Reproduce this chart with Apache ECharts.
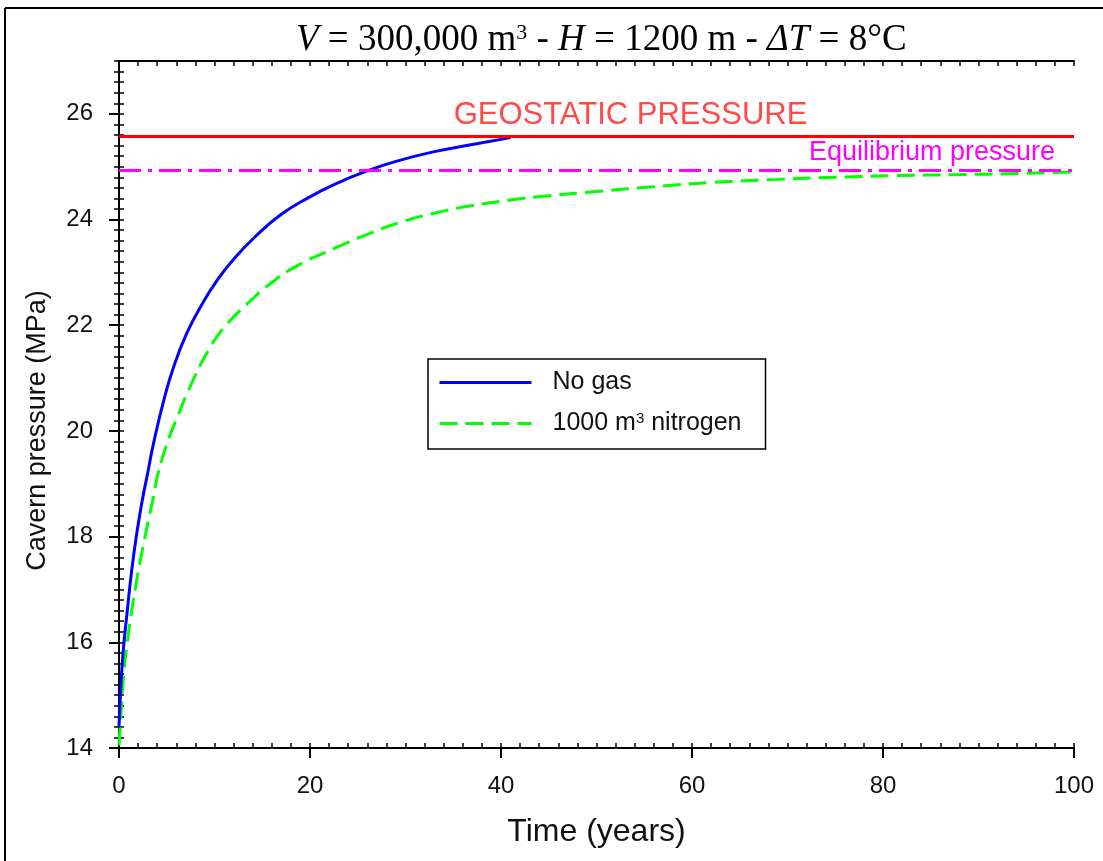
<!DOCTYPE html>
<html>
<head>
<meta charset="utf-8">
<script src="https://cdn.jsdelivr.net/npm/echarts@6/dist/echarts.min.js"></script>
<style>
html, body { margin: 0; padding: 0; background: #fff; }
#chart { width: 1103px; height: 861px; }
</style>
</head>
<body>
<div id="chart"></div>
<script>
// values
var timeNoGas = [0, 0.2, 0.45, 0.87, 1.33, 1.85, 2.4, 3.0, 3.6, 4.65, 5.7, 7.1, 8.8, 10.2, 12, 14.4, 17, 19.7, 23, 26, 29, 32.9, 37, 41];
var pressureNoGas = [14.4, 15.2, 15.85, 16.6, 17.36, 18.05, 18.65, 19.2, 19.75, 20.55, 21.2, 21.85, 22.43, 22.83, 23.25, 23.7, 24.1, 24.4, 24.7, 24.92, 25.1, 25.28, 25.42, 25.55];

var timeNitrogen = [0, 0.28, 0.52, 0.87, 1.33, 1.85, 2.4, 3.07, 3.6, 4.1, 5.2, 6.2, 7.4, 9.5, 11.3, 13.7, 15.8, 18.5, 22.5, 26, 29.5, 33, 36.5, 41, 45, 50, 56, 62, 69, 75, 81, 88, 94, 100];
var pressureNitrogen = [14.05, 14.85, 15.45, 16.0, 16.6, 17.17, 17.7, 18.3, 18.75, 19.2, 19.85, 20.3, 20.82, 21.57, 22.02, 22.45, 22.78, 23.11, 23.45, 23.72, 23.95, 24.12, 24.25, 24.37, 24.45, 24.53, 24.62, 24.7, 24.76, 24.8, 24.83, 24.85, 24.87, 24.9];

var geostaticPressure = 25.57;
var equilibriumPressure = 24.93;

var seriesNames = ['No gas', '1000 m³ nitrogen'];

function pairs(xs, ys) {
  return xs.map(function (x, i) { return [x, ys[i]]; });
}

var font = 'Liberation Sans, Arial, sans-serif';
var black = '#000';

var chart = echarts.init(document.getElementById('chart'));
chart.setOption({
  animation: false,
  backgroundColor: '#fff',
  title: {
    text: '{i|V} = 300,000 m{sup|3} - {i|H} = 1200 m - {i|ΔT} = 8°C',
    left: 291,
    top: 17,
    textStyle: {
      fontFamily: 'Liberation Serif',
      fontSize: 37,
      fontWeight: 'normal',
      color: black,
      rich: {
        i: { fontFamily: 'Liberation Serif', fontSize: 37, fontStyle: 'italic', color: black },
        sup: { fontFamily: 'Liberation Serif', fontSize: 22, verticalAlign: 'top', color: black }
      }
    }
  },
  legend: {
    orient: 'vertical',
    left: 428,
    top: 359,
    padding: [11, 24, 13, 10],
    itemWidth: 92,
    itemHeight: 22,
    itemGap: 16,
    borderColor: black,
    borderWidth: 1.5,
    data: seriesNames,
    itemStyle: { opacity: 0 },
    lineStyle: { width: 3 },
    formatter: function (name) {
      return name === seriesNames[1] ? '1000 m{sup|3} nitrogen' : name;
    },
    textStyle: {
      fontFamily: font,
      fontSize: 25,
      color: '#111',
      padding: [0, 0, 0, 16],
      rich: {
        sup: { fontFamily: font, fontSize: 15, verticalAlign: 'top', color: '#111' }
      }
    }
  },
  grid: { left: 119, right: 29, top: 61, bottom: 113 },
  xAxis: [
    {
      type: 'value', min: 0, max: 100, interval: 20, position: 'bottom',
      name: 'Time (years)', nameLocation: 'middle', nameGap: 68,
      nameTextStyle: { fontFamily: font, fontSize: 32, color: '#111' },
      axisLine: { lineStyle: { color: black, width: 2 } },
      axisTick: { inside: false, length: 10, lineStyle: { color: black, width: 2 } },
      axisLabel: { fontFamily: font, fontSize: 24, color: '#111', margin: 26 },
      splitLine: { show: false }
    },
    {
      type: 'value', min: 0, max: 100, interval: 2, position: 'bottom',
      axisLine: { show: false },
      axisTick: { inside: true, length: 5, lineStyle: { color: black, width: 1.5 } },
      axisLabel: { show: false },
      splitLine: { show: false }
    },
    {
      type: 'value', min: 0, max: 100, interval: 2, position: 'top',
      axisLine: { lineStyle: { color: black, width: 2 } },
      axisTick: { inside: true, length: 5, lineStyle: { color: black, width: 1.5 } },
      axisLabel: { show: false },
      splitLine: { show: false }
    }
  ],
  yAxis: [
    {
      type: 'value', min: 14, max: 27, interval: 2, position: 'left',
      name: 'Cavern pressure (MPa)', nameLocation: 'middle', nameGap: 68,
      nameTextStyle: { fontFamily: font, fontSize: 27, color: '#111', padding: [0, 52, 0, 0] },
      axisLine: { lineStyle: { color: black, width: 2 } },
      axisTick: { inside: false, length: 10, lineStyle: { color: black, width: 2 } },
      axisLabel: { fontFamily: font, fontSize: 24, color: '#111', margin: 26, showMaxLabel: false },
      splitLine: { show: false }
    },
    {
      type: 'value', min: 14, max: 27, interval: 0.2, position: 'left',
      axisLine: { show: false },
      axisTick: { inside: true, length: 5, lineStyle: { color: black, width: 1.5 } },
      axisLabel: { show: false },
      splitLine: { show: false }
    },
    {
      type: 'value', min: 14, max: 27, interval: 0.2, position: 'right',
      axisLine: { lineStyle: { color: black, width: 2 } },
      axisTick: { inside: true, length: 5, lineStyle: { color: black, width: 1.5 } },
      axisLabel: { show: false },
      splitLine: { show: false }
    }
  ],
  graphic: [
    { type: 'line', shape: { x1: 5, y1: 8, x2: 1103, y2: 8 }, style: { stroke: black, lineWidth: 2 } },
    { type: 'line', shape: { x1: 5, y1: 8, x2: 5, y2: 861 }, style: { stroke: black, lineWidth: 2 } }
  ],
  series: [
    {
      name: seriesNames[0],
      type: 'line',
      data: pairs(timeNoGas, pressureNoGas),
      smooth: 0.5,
      symbol: 'none',
      z: 4,
      lineStyle: { color: '#0000ff', width: 3 },
      itemStyle: { color: '#0000ff' },
      markLine: {
        silent: true,
        symbol: 'none',
        animation: false,
        data: [
          {
            yAxis: geostaticPressure,
            lineStyle: { color: '#ff0000', width: 3, type: 'solid' },
            label: {
              formatter: 'GEOSTATIC PRESSURE',
              position: 'insideMiddleTop',
              distance: 6,
              padding: [0, 0, 0, 68],
              fontFamily: font,
              fontSize: 31,
              color: '#ff4a4a'
            }
          },
          {
            yAxis: equilibriumPressure,
            lineStyle: { color: '#ff00ff', width: 3, type: [22, 7, 4, 7] },
            label: {
              formatter: 'Equilibrium pressure',
              position: 'insideEndTop',
              distance: [19, 4],
              fontFamily: font,
              fontSize: 27,
              color: '#ff00ff'
            }
          }
        ]
      }
    },
    {
      name: seriesNames[1],
      type: 'line',
      data: pairs(timeNitrogen, pressureNitrogen),
      smooth: 0.5,
      symbol: 'none',
      z: 3,
      lineStyle: { color: '#00ff00', width: 3, type: [18, 8] },
      itemStyle: { color: '#00ff00' }
    }
  ]
});
</script>
</body>
</html>
